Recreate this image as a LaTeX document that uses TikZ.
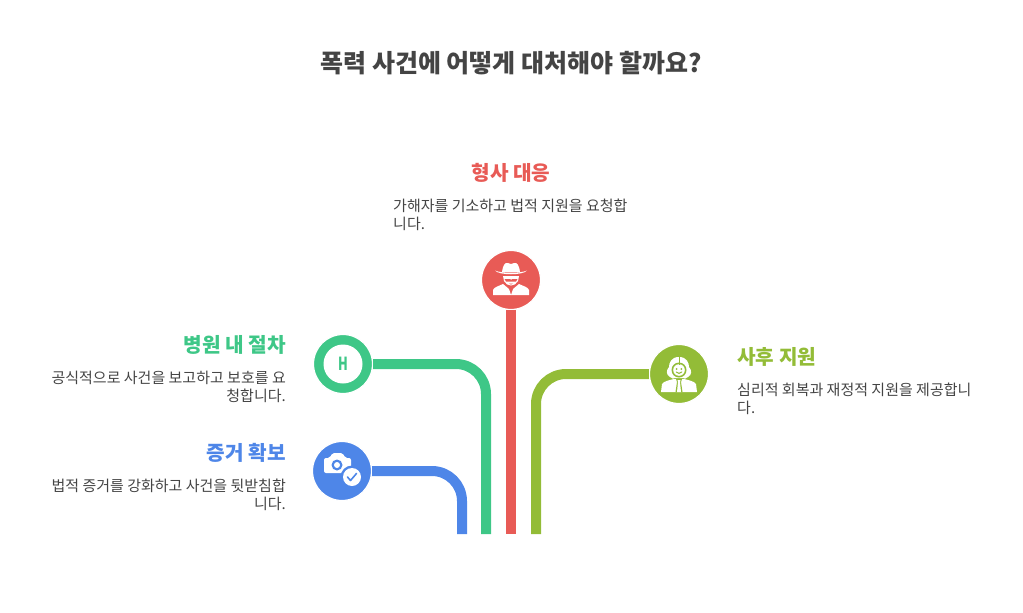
\documentclass[tikz,border=0pt]{standalone}
\usepackage{fontspec}
\setmainfont{Noto Sans CJK KR}
\usepackage{tikz}
\definecolor{redc}{HTML}{E85B56}
\definecolor{greenc}{HTML}{3EC787}
\definecolor{bluec}{HTML}{4E86E8}
\definecolor{olivec}{HTML}{93BC37}
\definecolor{textc}{HTML}{444444}
\tikzset{
  badge/.style={circle,draw=white,line width=1.2pt,minimum size=59pt,inner sep=0pt},
  pipe/.style={line width=10pt,rounded corners=30pt},
  head/.style={font=\fontsize{20.2}{24}\selectfont\bfseries,inner sep=0pt},
  body/.style={font=\fontsize{15}{18}\selectfont,text=textc,inner sep=0pt},
}
\begin{document}
\begin{tikzpicture}[x=1pt,y=-1pt]
  \useasboundingbox (0,0) rectangle (1023,613);
  %Titel
  \node[font=\fontsize{25}{30}\selectfont\bfseries,text=textc,inner sep=0pt] (title) at (511,63){폭력 사건에 어떻게 대처해야 할까요?};
  %Endpunkte
  \coordinate (redEnd) at (511,534);
  \coordinate (greenEnd) at (486,534);
  \coordinate (blueEnd) at (462,534);
  \coordinate (oliveEnd) at (536,534);
  %Kreise
  \node[badge,fill=redc] (crime) at (511,280){};
  \node[badge,fill=greenc] (hospital) at (343,364){};
  \node[badge,fill=bluec] (evidence) at (342,471){};
  \node[badge,fill=olivec] (after) at (679,374){};
  %Linien
  \draw[pipe,redc] (crime.south) -- (redEnd);
  \draw[pipe,greenc] (hospital.east) -| (greenEnd);
  \draw[pipe,bluec] (evidence.east) -| (blueEnd);
  \draw[pipe,olivec] (after.west) -| (oliveEnd);
  %Texte
  \node[head,text=redc] (crimeHead) at (511,173){형사 대응};
  \node[body,anchor=north west,align=left] (crimeBody) at (393,198.5){가해자를 기소하고 법적 지원을 요청합\\니다.};
  \node[head,text=greenc,anchor=east] (hospitalHead) at (286,345){병원 내 절차};
  \node[body,anchor=north east,align=right] (hospitalBody) at (286,371){공식적으로 사건을 보고하고 보호를 요\\청합니다.};
  \node[head,text=bluec,anchor=east] (evidenceHead) at (286,453){증거 확보};
  \node[body,anchor=north east,align=right] (evidenceBody) at (286,479){법적 증거를 강화하고 사건을 뒷받침합\\니다.};
  \node[head,text=olivec,anchor=west] (afterHead) at (737,357){사후 지원};
  \node[body,anchor=north west,align=left] (afterBody) at (737,383){심리적 회복과 재정적 지원을 제공합니\\다.};
  %Symbol Krankenhaus
  \fill[white] (hospital) circle (19.5);
  \node[font=\fontsize{18}{18}\selectfont\bfseries,text=greenc,inner sep=0pt,xscale=0.7] (hospitalH) at (hospital){H};
  %Symbol Kamera
  \begin{scope}[shift={(evidence)}]
    \fill[white,rounded corners=2pt] (-18,-13) -- (-12,-13) -- (-10,-18) -- (1,-18) -- (3,-13) -- (9,-13) -- (9,2) -- (-18,2) -- cycle;
    \fill[bluec] (-5,-6) circle (5.5);
    \fill[white] (-5,-6) circle (3);
    \fill[bluec] (10,6) circle (11.5);
    \fill[white] (10,6) circle (9);
    \draw[bluec,line width=1.6pt,line cap=round,line join=round] (5.5,6) -- (8.5,9.5) -- (14.5,2.5);
  \end{scope}
  %Symbol Mann mit Hut
  \begin{scope}[shift={(crime)}]
    \fill[white] (-16,-9.5) .. controls (-10,-6.5) and (10,-6.5) .. (16,-9.5) .. controls (12,-4.5) and (-12,-4.5) .. (-16,-9.5) -- cycle;
    \fill[white] (-9,-8) .. controls (-8,-15) and (-6,-18) .. (-3,-17) -- (0,-16) -- (3,-17) .. controls (6,-18) and (8,-15) .. (9,-8) -- cycle;
    \fill[white] (-8,-4) -- (8,-4) -- (7,1) .. controls (4,7) and (-4,7) .. (-7,1) -- cycle;
    \fill[redc] (-6.5,-1) -- (-1,-1) -- (0,0) -- (1,-1) -- (6.5,-1) -- (5,1.5) -- (-5,1.5) -- cycle;
    \fill[redc] (-2,3.5) -- (2,3.5) -- (0,4.5) -- cycle;
    \fill[white] (-18,15) -- (-18,10) .. controls (-17,7) and (-12,6) .. (-8,4) -- (-2,9) -- (0,15) -- (2,9) -- (8,4) .. controls (12,6) and (17,7) .. (18,10) -- (18,15) -- cycle;
    \fill[redc] (-2.5,7.5) -- (2.5,7.5) -- (1,10) -- (-1,10) -- cycle;
  \end{scope}
  %Symbol Frau
  \begin{scope}[shift={(after)}]
    \fill[white] (0,-17) .. controls (-8,-17) and (-10,-11) .. (-10,-7) .. controls (-13,-4) and (-13,1) .. (-9,3) .. controls (-7,5) and (-5,5) .. (-4,4) -- (4,4) .. controls (5,5) and (7,5) .. (9,3) .. controls (13,1) and (13,-4) .. (10,-7) .. controls (10,-11) and (8,-17) .. (0,-17) -- cycle;
    \fill[olivec] (0,-4) circle (7.5);
    \fill[white] (0,-4) circle (5.8);
    \draw[olivec,line width=1pt] (0,-17) -- (0,-9);
    \fill[olivec] (-2.3,-5) circle (1) (2.3,-5) circle (1);
    \draw[olivec,line width=1pt,line cap=round] (-2.8,-2) .. controls (-1,-0.2) and (1,-0.2) .. (2.8,-2);
    \fill[white] (-18,18) -- (-17,10) .. controls (-15,7) and (-9,6) .. (-5,5) -- (5,5) .. controls (9,6) and (15,7) .. (17,10) -- (18,18) -- cycle;
    \fill[olivec] (-3,5) -- (3,5) -- (2,8) -- (3.5,18) -- (-3.5,18) -- (-2,8) -- cycle;
    \fill[white] (-1.5,6) -- (1.5,6) -- (1,8) -- (2,18) -- (-2,18) -- (-1,8) -- cycle;
  \end{scope}
\end{tikzpicture}
\end{document}
